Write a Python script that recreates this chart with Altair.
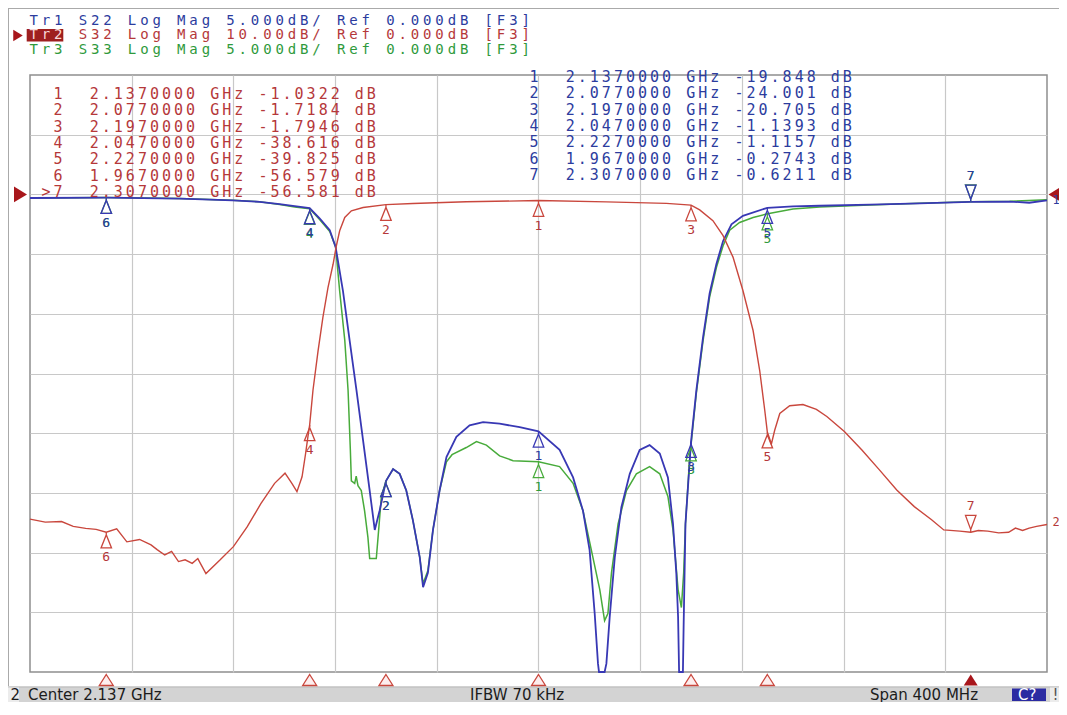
import altair as alt
import pandas as pd

# ---------------- values ----------------
span_ghz = [1.937, 2.337]          # Center 2.137 GHz, Span 400 MHz
grid_freq = [1.977, 2.017, 2.057, 2.097, 2.137, 2.177, 2.217, 2.257, 2.297]
grid_db5 = [-35, -30, -25, -20, -15, -10, -5, 0, 5]

# Tr1  S22  (5 dB/div, ref 0 dB)   (frequency GHz, dB)
s22 = [(1.937, -0.30), (1.967, -0.27), (1.9959, -0.35), (2.0167, -0.50), (2.0273, -0.62),
       (2.0352, -0.81), (2.0411, -0.98), (2.047, -1.14), (2.0509, -2.0), (2.0549, -3.0),
       (2.0572, -4.4), (2.0601, -8.1), (2.0627, -12.2), (2.0654, -16.4), (2.0680, -20.6),
       (2.0706, -24.8), (2.0726, -28.1), (2.0745, -26.5), (2.0770, -24.0), (2.0798, -23.0),
       (2.0824, -23.4), (2.0850, -24.8), (2.0876, -27.3), (2.0903, -30.4), (2.0916, -32.9),
       (2.0935, -31.7), (2.0955, -28.1), (2.0981, -24.8), (2.1008, -22.0), (2.1047, -20.3),
       (2.1099, -19.35), (2.1152, -19.07), (2.1217, -19.2), (2.1296, -19.5), (2.1370, -19.85),
       (2.1453, -21.4), (2.1506, -23.7), (2.1545, -26.5), (2.1571, -29.8), (2.1591, -35.1),
       (2.1604, -39.3), (2.1608, -44.0), (2.1630, -44.0), (2.1637, -39.3), (2.1650, -35.4),
       (2.1670, -30.4), (2.1696, -26.2), (2.1729, -23.4), (2.1768, -21.4), (2.1807, -21.0),
       (2.1847, -21.7), (2.1879, -23.7), (2.1899, -27.6), (2.1912, -31.7), (2.1919, -35.4),
       (2.1923, -44.0), (2.1938, -44.0), (2.1941, -35.9), (2.1948, -27.6), (2.1970, -20.7),
       (2.1991, -16.4), (2.2017, -12.0), (2.2043, -8.3), (2.2070, -5.8), (2.2096, -3.9),
       (2.2129, -2.5), (2.2174, -1.8), (2.2270, -1.12), (2.2371, -1.0), (2.2476, -0.95),
       (2.2673, -0.85), (2.2869, -0.75), (2.3070, -0.62), (2.3223, -0.60), (2.3300, -0.70),
       (2.3370, -0.50)]

# Tr3  S33  (5 dB/div, ref 0 dB)
s33 = [(1.937, -0.30), (1.967, -0.27), (1.9959, -0.35), (2.0167, -0.50), (2.0273, -0.62),
       (2.0352, -0.85), (2.0411, -1.05), (2.047, -1.20), (2.0509, -2.1), (2.0549, -3.1),
       (2.0572, -4.4), (2.0588, -8.1), (2.0608, -12.2), (2.0621, -16.4), (2.0630, -21.4),
       (2.0634, -24.0), (2.0647, -24.2), (2.0653, -23.6), (2.0660, -24.4), (2.0673, -24.8),
       (2.0686, -26.5), (2.0699, -28.7), (2.0706, -30.5), (2.0732, -30.5), (2.0739, -28.7),
       (2.0752, -25.3), (2.0770, -24.0), (2.0798, -23.0), (2.0824, -23.4), (2.0850, -24.8),
       (2.0876, -27.3), (2.0903, -30.4), (2.0916, -32.6), (2.0935, -31.5), (2.0955, -28.1),
       (2.0981, -24.8), (2.1008, -22.4), (2.1030, -21.8), (2.1086, -21.2), (2.1126, -20.7),
       (2.1165, -21.0), (2.1217, -21.9), (2.1270, -22.3), (2.1370, -22.4), (2.1453, -22.8),
       (2.1506, -24.2), (2.1545, -26.5), (2.1584, -30.4), (2.1611, -33.1), (2.1630, -35.7),
       (2.1643, -35.1), (2.1657, -31.7), (2.1683, -27.6), (2.1716, -24.8), (2.1755, -23.4),
       (2.1807, -22.8), (2.1847, -23.4), (2.1879, -25.3), (2.1899, -28.1), (2.1919, -33.1),
       (2.1932, -34.6), (2.1941, -31.7), (2.1948, -27.6), (2.1965, -22.0), (2.1991, -16.6),
       (2.2017, -12.3), (2.2043, -8.6), (2.2070, -6.1), (2.2096, -4.3), (2.2122, -3.0),
       (2.2161, -2.35), (2.2214, -1.93), (2.2266, -1.65), (2.2371, -1.23), (2.2476, -1.05),
       (2.2673, -0.88), (2.2869, -0.75), (2.3070, -0.62), (2.3223, -0.58), (2.3370, -0.45)]

# Tr2  S32  (10 dB/div, ref 0 dB)
s32 = [(1.937, -54.4), (1.9430, -54.9), (1.9494, -54.8), (1.9540, -55.6), (1.9589, -55.95),
       (1.9630, -56.1), (1.9670, -56.58), (1.9711, -56.0), (1.9751, -58.2), (1.9801, -57.8),
       (1.9846, -58.7), (1.9870, -59.5), (1.9900, -60.4), (1.9927, -59.8), (1.9954, -61.5),
       (1.9980, -61.2), (2.0008, -61.8), (2.0030, -61.0), (2.0062, -63.5), (2.0116, -61.3),
       (2.0170, -59.0), (2.0224, -55.7), (2.0278, -51.8), (2.0332, -48.4), (2.0373, -46.7),
       (2.0400, -48.4), (2.0420, -49.8), (2.0440, -47.3), (2.0454, -43.4), (2.0463, -40.6),
       (2.0470, -38.6), (2.0483, -32.8), (2.0503, -26.2), (2.0522, -20.6), (2.0542, -15.6),
       (2.0562, -11.7), (2.0575, -8.6), (2.0588, -6.1), (2.0608, -3.86), (2.0634, -2.74),
       (2.0680, -2.19), (2.0770, -1.72), (2.0876, -1.52), (2.1086, -1.24), (2.1370, -1.03),
       (2.1637, -1.25), (2.1873, -1.5), (2.1970, -1.79), (2.2004, -2.6), (2.2056, -4.4),
       (2.2096, -6.9), (2.2135, -10.5), (2.2174, -16.1), (2.2214, -22.8), (2.2240, -29.5),
       (2.2260, -36.2), (2.2270, -39.8), (2.2286, -41.8), (2.2299, -39.5), (2.2319, -36.7),
       (2.2358, -35.4), (2.2410, -35.2), (2.2463, -36.0), (2.2504, -37.2), (2.2573, -39.7),
       (2.2642, -42.8), (2.2710, -46.1), (2.2779, -49.5), (2.2848, -52.3), (2.2916, -54.5),
       (2.2964, -56.2), (2.3027, -56.4), (2.3070, -56.58), (2.3100, -56.3), (2.3137, -56.4),
       (2.3180, -56.7), (2.3219, -56.6), (2.3246, -55.9), (2.3274, -56.3), (2.3300, -55.9),
       (2.3329, -55.6), (2.3370, -55.3)]

marker_ids = ["1", "2", "3", "4", "5", "6", "7"]
marker_freq = [2.137, 2.077, 2.197, 2.047, 2.227, 1.967, 2.307]
s32_marker_db = [-1.0322, -1.7184, -1.7946, -38.616, -39.825, -56.579, -56.581]
s22_marker_db = [-19.848, -24.001, -20.705, -1.1393, -1.1157, -0.2743, -0.6211]
s33_marker_db = [-22.4, -24.0, -21.0, -1.20, -1.65, -0.27, -0.62]
active_marker = "7"

header_trace = ["Tr1", "Tr2", "Tr3"]
header_param = ["S22", "S32", "S33"]
header_scale = ["5.000dB/", "10.00dB/", "5.000dB/"]
header_ref = ["0.000dB", "0.000dB", "0.000dB"]
ref_level_db = [0.0]

status_texts = ["Center 2.137 GHz", "IFBW 70 kHz", "Span 400 MHz"]
channel_no = "2"

# ---------------- styling / layout ----------------
BLUE_LINE, RED_LINE, GREEN_LINE = "#3838b4", "#c9473d", "#48ab3b"
BLUE_TXT, RED_TXT, GREEN_TXT = "#2c3c9e", "#b5383a", "#2f9a3c"
DARK_RED = "#a8161b"
GRID = "#c8c8c8"
MONO = "DejaVu Sans Mono"
SANS = "DejaVu Sans"

PL, PT = 30.0, 75.0      # page position of the plot area
W, H = 1017, 597


def gx(px):
    return px - PL


def gy(py):
    return py - PT


XS = alt.Scale(domain=span_ghz, nice=False, zero=False)
Y5 = alt.Scale(domain=[-40, 10], nice=False, zero=False, clamp=True)
Y10 = alt.Scale(domain=[-80, 20], nice=False, zero=False, clamp=True)

UP = "M0,0L0,0.5L-1,3L1,3L0,0.5Z"
DOWN = "M0,0L0,-0.5L-1,-3.2L1,-3.2L0,-0.5Z"
STIM = "M0,-1L1.27,1L-1.27,1Z"
RIGHT = "M1,0L-1,-1.2L-1,1.2Z"
LEFT = "M-1,0L1,-1.2L1,1.2Z"

PX = dict(scale=None, axis=None)


def trace_layer(pairs, yscale, color, width, with_grid=False):
    df = pd.DataFrame(pairs, columns=["f", "db"])
    if with_grid:
        xa = alt.Axis(values=grid_freq, grid=True, gridColor=GRID, gridWidth=1.2,
                      labels=False, ticks=False, domain=False, title=None)
        ya = alt.Axis(values=grid_db5, grid=True, gridColor=GRID, gridWidth=1.2,
                      labels=False, ticks=False, domain=False, title=None)
    else:
        xa = None
        ya = None
    return alt.Chart(df).mark_line(color=color, strokeWidth=width).encode(
        x=alt.X("f:Q", scale=XS, axis=xa),
        y=alt.Y("db:Q", scale=yscale, axis=ya),
    )


def marker_layers(values, yscale, color, txt_color):
    df = pd.DataFrame({"f": marker_freq, "db": values, "id": marker_ids})
    up = df[df["id"] != active_marker]
    down = df[df["id"] == active_marker]
    enc = dict(x=alt.X("f:Q", scale=XS, axis=None), y=alt.Y("db:Q", scale=yscale, axis=None))
    return [
        alt.Chart(up).mark_point(shape=UP, size=110, filled=False, strokeWidth=1.3,
                                 color=color, opacity=1).encode(**enc),
        alt.Chart(up).mark_text(dy=25, font=MONO, fontSize=13, color=txt_color).encode(
            text="id:N", **enc),
        alt.Chart(down).mark_point(shape=DOWN, size=110, filled=False, strokeWidth=1.3,
                                   color=color, opacity=1).encode(**enc),
        alt.Chart(down).mark_text(dy=-26, font=MONO, fontSize=13, color=txt_color).encode(
            text="id:N", **enc),
    ]


def fmt_db(v):
    return f"{v:.4f}" if abs(v) < 10 else f"{v:.3f}"


def table_lines(values, active):
    out = []
    for mid, f, v in zip(marker_ids, marker_freq, values):
        lab = (">" + mid) if mid == active else mid
        out.append(f"{lab:>2}  {f:.7f} GHz {fmt_db(v):>7} dB")
    return out


def char_rows(text, x0, cw, yc, color, first_color=None, n_first=0):
    rows = []
    for i, ch in enumerate(text):
        if ch != " ":
            c = first_color if (first_color and i < n_first) else color
            rows.append({"x": gx(x0 + cw * (i + 0.5)), "y": gy(yc), "t": ch, "c": c})
    return rows


# header lines (one character per monospace cell, as on the analyser screen)
header_chars = []
header_colors = [BLUE_TXT, RED_TXT, GREEN_TXT]
header_y = [20.5, 35.0, 49.5]
for k in range(3):
    line = (f"{header_trace[k]} {header_param[k]} Log Mag {header_scale[k]} "
            f"Ref {header_ref[k]} [F3]")
    header_chars += char_rows(line, 27.5, 12.3, header_y[k], header_colors[k],
                              first_color="#f8d8d8" if k == 1 else None, n_first=3)

# marker tables
table_chars = []
for i, line in enumerate(table_lines(s32_marker_db, active_marker)):
    table_chars += char_rows(line, 40.0, 12.05, 94.0 + 16.3 * i, RED_TXT)
for i, line in enumerate(table_lines(s22_marker_db, None)):
    table_chars += char_rows(line, 516.0, 12.05, 77.0 + 16.3 * i, BLUE_TXT)

# rectangles (status bar, highlight boxes) in page pixels
rects = pd.DataFrame([
    {"x": gx(8), "x2": gx(1059), "y": gy(686.5), "y2": gy(702), "fill": "#d3d3d3"},
    {"x": gx(8), "x2": gx(1059), "y": gy(686.5), "y2": gy(687.5), "fill": "#b9b9b9"},
    {"x": gx(8), "x2": gx(19), "y": gy(687.5), "y2": gy(702), "fill": "#ececec"},
    {"x": gx(1012), "x2": gx(1046), "y": gy(688.5), "y2": gy(701), "fill": "#2b2ba2"},
    {"x": gx(1050), "x2": gx(1059), "y": gy(687.5), "y2": gy(702), "fill": "#ececec"},
    {"x": gx(26.7), "x2": gx(63.3), "y": gy(29.0), "y2": gy(41.5), "fill": "#9e1f1f"},
])
rect_layer = alt.Chart(rects).mark_rect().encode(
    x=alt.X("x:Q", **PX), x2="x2:Q", y=alt.Y("y:Q", **PX), y2="y2:Q",
    color=alt.Color("fill:N", scale=None, legend=None))

frame = pd.DataFrame([
    {"x": gx(8.5), "x2": gx(8.5), "y": gy(8), "y2": gy(686)},
    {"x": gx(8), "x2": gx(1059), "y": gy(8.5), "y2": gy(8.5)},
])
frame_layer = alt.Chart(frame).mark_rule(color="#aaaaaa", strokeWidth=1).encode(
    x=alt.X("x:Q", **PX), x2="x2:Q", y=alt.Y("y:Q", **PX), y2="y2:Q")

# traces
green_tr = trace_layer(s33, Y5, GREEN_LINE, 1.5, with_grid=True)
blue_tr = trace_layer(s22, Y5, BLUE_LINE, 1.8)
red_tr = trace_layer(s32, Y10, RED_LINE, 1.4)

# stimulus markers under the grid (active trace Tr2)
stim_df = pd.DataFrame({"f": marker_freq, "id": marker_ids})
stim_inactive = alt.Chart(stim_df[stim_df["id"] != active_marker]).mark_point(
    shape=STIM, size=121, filled=True, fill="#fdeeee", stroke=RED_LINE, strokeWidth=1.3,
    opacity=1).encode(x=alt.X("f:Q", scale=XS, axis=None), y=alt.value(gy(680.0)))
stim_active = alt.Chart(stim_df[stim_df["id"] == active_marker]).mark_point(
    shape=STIM, size=121, filled=True, color=DARK_RED, opacity=1).encode(
    x=alt.X("f:Q", scale=XS, axis=None), y=alt.value(gy(680.0)))

# reference level arrows of the active trace
ref_df = pd.DataFrame({"db": ref_level_db})
ref_left = alt.Chart(ref_df).mark_point(shape=RIGHT, size=169, filled=True, color=DARK_RED,
                                        opacity=1).encode(
    x=alt.value(gx(20.5)), y=alt.Y("db:Q", scale=Y10, axis=None))
ref_right = alt.Chart(ref_df).mark_point(shape=LEFT, size=169, filled=True, color=DARK_RED,
                                         opacity=1).encode(
    x=alt.value(gx(1055.0)), y=alt.Y("db:Q", scale=Y10, axis=None))

one = pd.DataFrame({"a": [0]})
active_arrow = alt.Chart(one).mark_point(shape=RIGHT, size=90, filled=True, color=DARK_RED,
                                         opacity=1).encode(
    x=alt.value(gx(18.0)), y=alt.value(gy(35.5)))

# trace end labels
end_df = pd.DataFrame([
    {"x": gx(1052.5), "y": gy(200), "t": header_trace[0][-1], "c": BLUE_TXT},
    {"x": gx(1052.5), "y": gy(522), "t": header_trace[1][-1], "c": RED_TXT},
])
end_layer = alt.Chart(end_df).mark_text(font=MONO, fontSize=12, align="left").encode(
    x=alt.X("x:Q", **PX), y=alt.Y("y:Q", **PX), text="t:N",
    color=alt.Color("c:N", scale=None, legend=None))

# character grid text (header + marker tables)
header_layer = alt.Chart(pd.DataFrame(header_chars)).mark_text(font=MONO, fontSize=14).encode(
    x=alt.X("x:Q", **PX), y=alt.Y("y:Q", **PX), text="t:N",
    color=alt.Color("c:N", scale=None, legend=None))
table_layer = alt.Chart(pd.DataFrame(table_chars)).mark_text(font=MONO, fontSize=15).encode(
    x=alt.X("x:Q", **PX), y=alt.Y("y:Q", **PX), text="t:N",
    color=alt.Color("c:N", scale=None, legend=None))

# status bar texts
status_df = pd.DataFrame({
    "t": status_texts + [channel_no, "C?", "!"],
    "x": [gx(28), gx(470), gx(870), gx(10.5), gx(1018), gx(1052.5)],
    "y": [gy(694.5)] * 6,
    "c": ["#1c1c1c", "#1c1c1c", "#1c1c1c", "#1c1c1c", "#ffffff", "#555555"],
})
status_layer = alt.Chart(status_df).mark_text(font=SANS, fontSize=15, align="left").encode(
    x=alt.X("x:Q", **PX), y=alt.Y("y:Q", **PX), text="t:N",
    color=alt.Color("c:N", scale=None, legend=None))

layers = [rect_layer, frame_layer, green_tr, blue_tr, red_tr]
layers += marker_layers(s33_marker_db, Y5, GREEN_LINE, GREEN_TXT)
layers += marker_layers(s22_marker_db, Y5, BLUE_LINE, BLUE_TXT)
layers += marker_layers(s32_marker_db, Y10, RED_LINE, RED_TXT)
layers += [stim_inactive, stim_active, ref_left, ref_right, active_arrow,
           header_layer, table_layer, end_layer, status_layer]

chart = alt.layer(*layers).resolve_scale(
    x="independent", y="independent", color="independent"
).properties(
    width=W, height=H,
    padding={"left": 22, "top": 67, "right": 12, "bottom": 30},
    autosize=alt.AutoSizeParams(type="none"),
    background="white",
).configure_view(stroke="#8f8f8f", strokeWidth=1.5)

chart.save("out.html", embed_options={"renderer": "svg", "actions": False})
